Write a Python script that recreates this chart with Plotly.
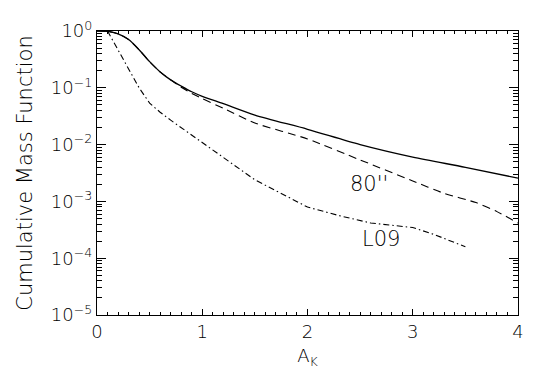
import plotly.graph_objects as go

# A_K grid and log10 of the cumulative mass function
ak_full = [0.0, 0.1, 0.2, 0.3, 0.4, 0.5, 0.6, 0.7, 0.8, 0.9, 1.0, 1.2, 1.5,
           2.0, 2.5, 3.0, 3.5, 4.0]
log_full = [0.0, -0.005, -0.05, -0.15, -0.33, -0.54, -0.72, -0.86, -0.97,
            -1.07, -1.15, -1.28, -1.48, -1.73, -2.0, -2.22, -2.4, -2.59]

ak_80 = [0.0, 0.1, 0.2, 0.3, 0.4, 0.5, 0.6, 0.7, 0.8, 0.9, 1.0, 1.2, 1.5,
         2.0, 2.5, 3.0, 3.3, 3.6, 3.8, 4.0]
log_80 = [0.0, -0.005, -0.05, -0.15, -0.33, -0.54, -0.72, -0.86, -0.99,
          -1.1, -1.19, -1.36, -1.62, -1.9, -2.27, -2.64, -2.86,
          -3.02, -3.18, -3.38]

ak_l09 = [0.1, 0.2, 0.3, 0.4, 0.5, 0.6, 0.7, 0.8, 0.9, 1.0, 1.5, 2.0, 2.3,
          2.6, 2.8, 3.0, 3.2, 3.5]
log_l09 = [0.0, -0.33, -0.68, -1.0, -1.27, -1.43, -1.57, -1.7, -1.83, -1.96,
           -2.62, -3.1, -3.25, -3.38, -3.42, -3.46, -3.58, -3.8]

ytick_vals = [1, 1e-1, 1e-2, 1e-3, 1e-4, 1e-5]
ytick_text = ["10<sup>0</sup>", "10<sup>−1</sup>", "10<sup>−2</sup>",
              "10<sup>−3</sup>", "10<sup>−4</sup>", "10<sup>−5</sup>"]

font = "DejaVu Sans"
ink = "black"

fig = go.Figure()
fig.add_trace(go.Scatter(x=ak_full, y=[10 ** v for v in log_full], mode="lines",
                         line=dict(color="black", width=1.3, shape="spline",
                                   smoothing=0.8)))
fig.add_trace(go.Scatter(x=ak_80, y=[10 ** v for v in log_80], mode="lines",
                         line=dict(color="black", width=1.1, dash="8px,5px",
                                   shape="spline", smoothing=0.6)))
fig.add_trace(go.Scatter(x=ak_l09, y=[10 ** v for v in log_l09], mode="lines",
                         line=dict(color="black", width=1.1,
                                   dash="6px,3px,1.5px,3px")))

fig.add_annotation(x=2.58, y=-2.69, text="80''", showarrow=False,
                   font=dict(family=font, size=21, color=ink, weight=200))
fig.add_annotation(x=2.70, y=-3.67, text="L09", showarrow=False,
                   font=dict(family=font, size=21, color=ink, weight=200))

# page body has an 8px margin, so the figure is 8px smaller each way
fig.update_layout(
    width=531, height=384,
    margin=dict(l=89, r=21, t=10, b=77),
    paper_bgcolor="white", plot_bgcolor="white",
    showlegend=False,
    font=dict(family=font, size=18, color=ink, weight=200),
)
fig.update_xaxes(
    range=[0, 4], dtick=1, showgrid=False, zeroline=False,
    showline=True, linecolor="black", linewidth=1.2, mirror="ticks",
    ticks="inside", ticklen=6, tickcolor="black", tickwidth=1,
    minor=dict(dtick=0.1, ticks="inside", ticklen=3, tickcolor="black"),
    tickfont=dict(size=18), ticklabeloverflow="allow",
    title=dict(text="A<sub>K</sub>", font=dict(size=18), standoff=8),
)
fig.update_yaxes(
    type="log", range=[-5, 0], showgrid=False, zeroline=False,
    tickvals=ytick_vals, ticktext=ytick_text, ticklabeloverflow="allow",
    showline=True, linecolor="black", linewidth=1.2, mirror="ticks",
    ticks="inside", ticklen=9, tickcolor="black", tickwidth=1,
    minor=dict(dtick="D1", ticks="inside", ticklen=5, tickcolor="black"),
    tickfont=dict(size=18),
    title=dict(text="Cumulative Mass Function", font=dict(size=21), standoff=12),
)

fig.write_html("out.html")
